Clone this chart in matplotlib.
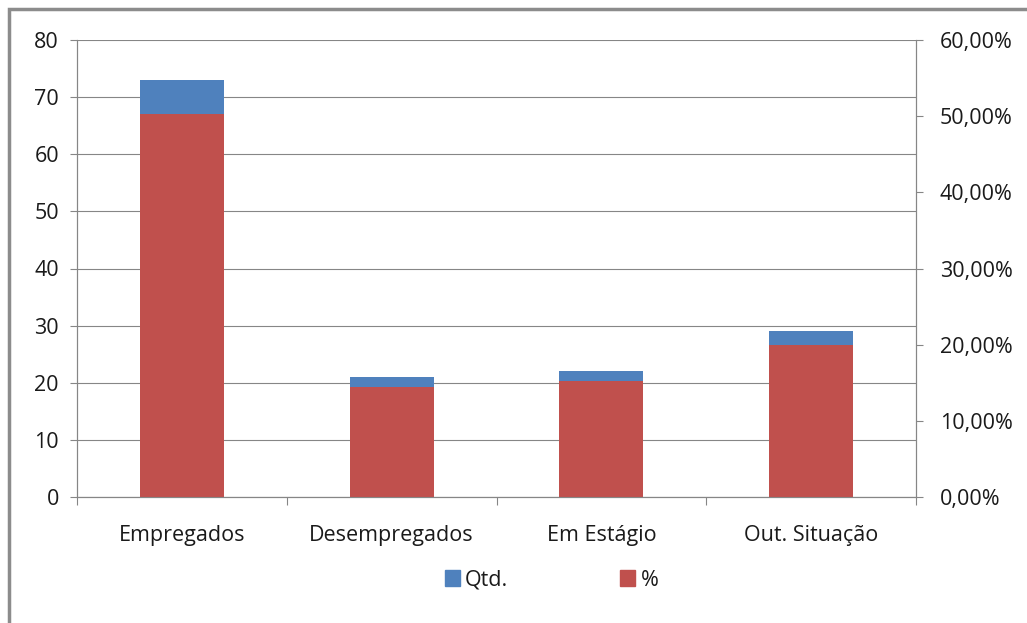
import matplotlib.pyplot as plt
from matplotlib.patches import Rectangle, Patch
from matplotlib.ticker import FuncFormatter
import numpy as np

plt.rcParams["font.family"] = ["Open Sans", "DejaVu Sans"]

categorias = ["Empregados", "Desempregados", "Em Estágio", "Out. Situação"]
qtd = [73, 21, 22, 29]
pct = [50.34, 14.48, 15.17, 20.00]

azul = "#4F81BD"
vermelho = "#C0504D"
cinza = "#868686"
texto = "#1a1a1a"
fs = 15.5

fig = plt.figure(figsize=(10.27, 6.23), dpi=100)
ax = fig.add_axes([77 / 1027, 1 - 497 / 623, (916 - 77) / 1027, (497 - 40) / 623])
ax2 = ax.twinx()

x = np.arange(len(categorias))
ax.bar(x, qtd, width=0.4, color=azul, zorder=2)
ax2.bar(x, pct, width=0.4, color=vermelho, zorder=2)

ax.set_ylim(0, 80)
ax.set_yticks(range(0, 81, 10))
ax2.set_ylim(0, 60)
ax2.set_yticks(range(0, 61, 10))
ax2.yaxis.set_major_formatter(FuncFormatter(lambda v, _: f"{v:.2f}%".replace(".", ",")))
ax.set_xlim(-0.5, len(categorias) - 0.5)

ax.yaxis.grid(True, color=cinza, linewidth=0.8)
ax.set_axisbelow(True)

ax.set_xticks(x)
ax.set_xticklabels(categorias)
ax.set_xticks(np.arange(-0.5, len(categorias)), minor=True)
ax.tick_params(axis="x", which="major", length=0, pad=20)
ax.tick_params(axis="x", which="minor", length=6, color=cinza, width=0.8)

for a in (ax, ax2):
    a.tick_params(axis="y", length=5, color=cinza, width=0.8, labelsize=fs,
                  labelcolor=texto, pad=8)
    a.spines["top"].set_visible(False)
    for s in ("left", "right", "bottom"):
        a.spines[s].set_color(cinza)
        a.spines[s].set_linewidth(0.8)
ax.tick_params(axis="x", labelsize=fs, labelcolor=texto)
ax2.tick_params(axis="y", pad=12)

# moldura da área do gráfico
fig.patches.append(Rectangle((9 / 1027, -0.1), 1.2, 1 - 9 / 623 + 0.1,
                             transform=fig.transFigure, fill=False,
                             edgecolor="#8c8c8c", linewidth=2.5))

handles = [Patch(color=azul, label="Qtd."), Patch(color=vermelho, label="%")]
fig.legend(handles=handles, loc="center", bbox_to_anchor=(0.537, 1 - 580 / 623),
           ncol=2, frameon=False, fontsize=fs, handlelength=0.7, handleheight=0.7,
           handletextpad=0.25, columnspacing=5.2, labelcolor=texto)

fig.savefig("out.png", dpi=100)
